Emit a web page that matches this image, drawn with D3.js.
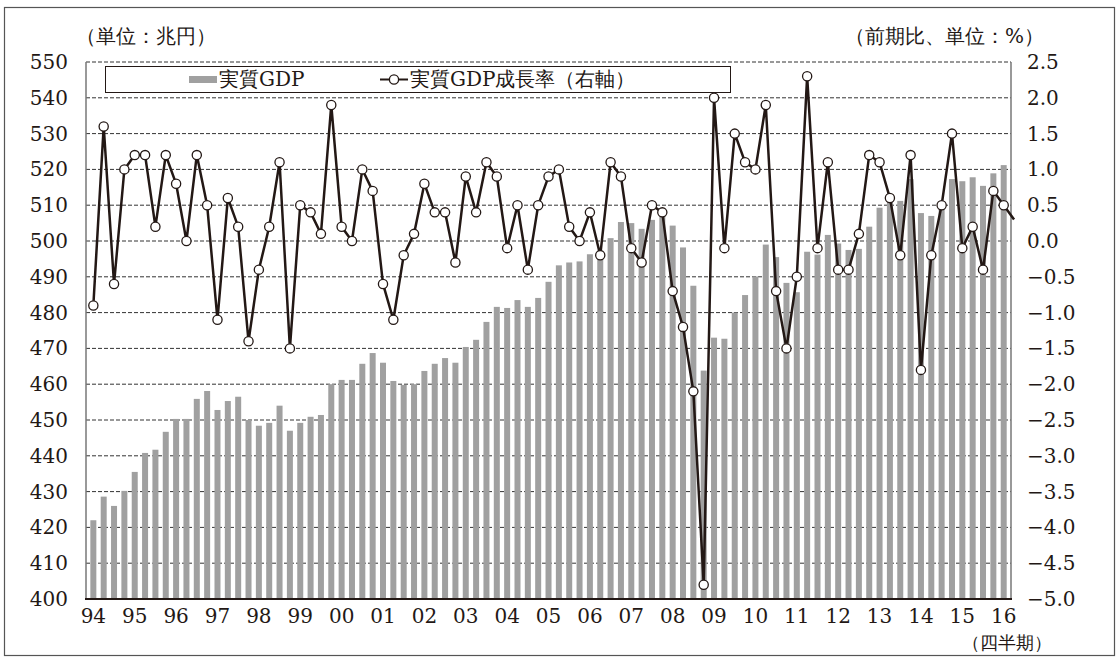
<!DOCTYPE html>
<html>
<head>
<meta charset="utf-8">
<script src="https://cdn.jsdelivr.net/npm/d3@7"></script>
<style>
  body { margin: 0; background: #fff; }
  svg { display: block; }
</style>
</head>
<body>
<div id="chart"></div>
<script>
// 年（四半期の軸ラベル）
const years = ["94","95","96","97","98","99","00","01","02","03","04","05",
               "06","07","08","09","10","11","12","13","14","15","16"];

// 実質GDP（兆円）94Q1〜16Q1
const gdp = [
  422.0, 428.6, 426.0, 430.2, 435.5, 440.8, 441.7, 446.7, 450.3, 450.3,
  455.9, 458.1, 452.8, 455.3, 456.5, 450.0, 448.4, 449.2, 454.0, 447.0,
  449.2, 450.9, 451.4, 460.0, 461.2, 461.2, 465.7, 468.7, 466.0, 460.9,
  459.8, 460.0, 463.7, 465.7, 467.3, 466.0, 470.4, 472.4, 477.4, 481.6,
  481.3, 483.5, 481.6, 484.1, 488.6, 493.2, 494.0, 494.3, 496.3, 497.4,
  500.8, 505.3, 505.0, 503.4, 505.9, 507.2, 504.3, 498.2, 487.5, 463.8,
  473.0, 472.7, 480.0, 484.9, 490.1, 499.0, 495.5, 488.3, 485.7, 497.0,
  496.2, 501.7, 499.3, 497.5, 497.8, 504.0, 509.3, 511.2, 511.2, 517.3,
  507.8, 507.0, 509.1, 517.3, 516.7, 517.8, 515.4, 518.9, 521.2
];

// 実質GDP成長率（前期比、%）最後の1点は図の右端からはみ出す
const growth = [
  -0.9, 1.6, -0.6, 1.0, 1.2, 1.2, 0.2, 1.2, 0.8, 0.0,
  1.2, 0.5, -1.1, 0.6, 0.2, -1.4, -0.4, 0.2, 1.1, -1.5,
  0.5, 0.4, 0.1, 1.9, 0.2, 0.0, 1.0, 0.7, -0.6, -1.1,
  -0.2, 0.1, 0.8, 0.4, 0.4, -0.3, 0.9, 0.4, 1.1, 0.9,
  -0.1, 0.5, -0.4, 0.5, 0.9, 1.0, 0.2, 0.0, 0.4, -0.2,
  1.1, 0.9, -0.1, -0.3, 0.5, 0.4, -0.7, -1.2, -2.1, -4.8,
  2.0, -0.1, 1.5, 1.1, 1.0, 1.9, -0.7, -1.5, -0.5, 2.3,
  -0.1, 1.1, -0.4, -0.4, 0.1, 1.2, 1.1, 0.6, -0.2, 1.2,
  -1.8, -0.2, 0.5, 1.5, -0.1, 0.2, -0.4, 0.7, 0.5, 0.3
];

const leftTicks = [400, 410, 420, 430, 440, 450, 460, 470, 480, 490, 500, 510, 520, 530, 540, 550];
const rightTicks = [-5.0, -4.5, -4.0, -3.5, -3.0, -2.5, -2.0, -1.5, -1.0, -0.5, 0.0, 0.5, 1.0, 1.5, 2.0, 2.5];

// 四半期カテゴリ
const quarters = [];
years.forEach(y => { for (let q = 1; q <= 4; q++) quarters.push(y + "Q" + q); });
quarters.length = growth.length;

const width = 1118, height = 663;
const plot = { left: 86, right: 1011, top: 62, bottom: 599 };
const step = (plot.right - plot.left) / gdp.length;

const ink = "#231815";
const serif = "DejaVu Serif";

const svg = d3.select("#chart").append("svg")
    .attr("width", width)
    .attr("height", height)
    .style("background", "#fff");

// 外枠
svg.append("rect")
    .attr("x", 4.5).attr("y", 7.5)
    .attr("width", 1110).attr("height", 648)
    .attr("fill", "none")
    .attr("stroke", "#555")
    .attr("stroke-width", 1.2);

const x = d3.scaleBand()
    .domain(quarters)
    .range([plot.left, plot.left + step * quarters.length])
    .padding(0.42);

const yL = d3.scaleLinear().domain([400, 550]).range([plot.bottom, plot.top]);
const yR = d3.scaleLinear().domain([-5, 2.5]).range([plot.bottom, plot.top]);

// グリッド（破線）
svg.append("g")
    .selectAll("line")
    .data(leftTicks.filter(d => d > 400))
    .enter()
    .append("line")
    .attr("x1", plot.left)
    .attr("x2", plot.right)
    .attr("y1", d => yL(d))
    .attr("y2", d => yL(d))
    .attr("stroke", "#333")
    .attr("stroke-width", 1)
    .attr("stroke-dasharray", "4,2");

// 実質GDPの棒
svg.append("g")
    .selectAll("rect")
    .data(gdp)
    .enter()
    .append("rect")
    .attr("x", (d, i) => x(quarters[i]))
    .attr("y", d => yL(d))
    .attr("width", x.bandwidth())
    .attr("height", d => yL(400) - yL(d))
    .attr("fill", "#a0a0a0");

// 軸線
svg.append("line")
    .attr("x1", plot.left).attr("x2", plot.left)
    .attr("y1", plot.top).attr("y2", plot.bottom)
    .attr("stroke", "#777").attr("stroke-width", 1.5);
svg.append("line")
    .attr("x1", plot.right).attr("x2", plot.right)
    .attr("y1", plot.top).attr("y2", plot.bottom)
    .attr("stroke", "#777").attr("stroke-width", 1.5);
svg.append("line")
    .attr("x1", plot.left - 1).attr("x2", plot.right + 1)
    .attr("y1", plot.bottom).attr("y2", plot.bottom)
    .attr("stroke", ink).attr("stroke-width", 2.2);

// 成長率の折れ線
const cx = (d, i) => x(quarters[i]) + x.bandwidth() / 2;
const line = d3.line()
    .x(cx)
    .y(d => yR(d));

svg.append("path")
    .datum(growth)
    .attr("d", line)
    .attr("fill", "none")
    .attr("stroke", ink)
    .attr("stroke-width", 2.5)
    .attr("stroke-linejoin", "miter");

svg.append("g")
    .selectAll("circle")
    .data(growth.slice(0, gdp.length))
    .enter()
    .append("circle")
    .attr("cx", cx)
    .attr("cy", d => yR(d))
    .attr("r", 4.6)
    .attr("fill", "#fff")
    .attr("stroke", ink)
    .attr("stroke-width", 1.3);

// 左軸ラベル
const leftAxis = svg.append("g")
    .attr("transform", `translate(${plot.left},0)`)
    .call(d3.axisLeft(yL).tickValues(leftTicks).tickSize(0).tickPadding(18).tickFormat(d3.format("d")));
leftAxis.attr("font-family", null);
leftAxis.select(".domain").remove();
leftAxis.selectAll("text")
    .style("font-family", serif)
    .attr("font-size", 20)
    .attr("fill", ink);

// 右軸ラベル
const fmtR = d => (d < 0 ? "\u2212" : "") + Math.abs(d).toFixed(1);
const rightAxis = svg.append("g")
    .attr("transform", `translate(${plot.right},0)`)
    .call(d3.axisRight(yR).tickValues(rightTicks).tickSize(0).tickPadding(16).tickFormat(fmtR));
rightAxis.attr("font-family", null);
rightAxis.select(".domain").remove();
rightAxis.selectAll("text")
    .style("font-family", serif)
    .attr("font-size", 20)
    .attr("fill", ink);

// 下軸（年）
const yearTicks = quarters.filter(q => q.endsWith("Q1"));
const bottomAxis = svg.append("g")
    .attr("transform", `translate(0,${plot.bottom})`)
    .call(d3.axisBottom(x).tickValues(yearTicks).tickSize(0).tickPadding(10).tickFormat(q => q.slice(0, 2)));
bottomAxis.attr("font-family", null);
bottomAxis.select(".domain").remove();
bottomAxis.selectAll("text")
    .style("font-family", serif)
    .attr("font-size", 20)
    .attr("fill", ink);

// 単位
svg.append("text")
    .attr("x", 76).attr("y", 43)
    .style("font-family", serif)
    .attr("font-size", 20)
    .attr("fill", ink)
    .text("（単位：兆円）");

svg.append("text")
    .attr("x", 1044).attr("y", 43)
    .attr("text-anchor", "end")
    .style("font-family", serif)
    .attr("font-size", 20)
    .attr("fill", ink)
    .text("（前期比、単位：%）");

svg.append("text")
    .attr("x", 1052).attr("y", 649)
    .attr("text-anchor", "end")
    .style("font-family", serif)
    .attr("font-size", 18)
    .attr("fill", ink)
    .text("（四半期）");

// 凡例
const legend = svg.append("g");
legend.append("rect")
    .attr("x", 105.5).attr("y", 66.5)
    .attr("width", 625).attr("height", 26)
    .attr("fill", "#fff")
    .attr("stroke", ink)
    .attr("stroke-width", 1);
legend.append("rect")
    .attr("x", 189).attr("y", 76)
    .attr("width", 28).attr("height", 7)
    .attr("fill", "#a0a0a0");
legend.append("text")
    .attr("x", 219).attr("y", 86)
    .style("font-family", serif)
    .attr("font-size", 20)
    .attr("fill", ink)
    .text("実質GDP");
legend.append("line")
    .attr("x1", 380).attr("x2", 408)
    .attr("y1", 79.5).attr("y2", 79.5)
    .attr("stroke", ink)
    .attr("stroke-width", 2);
legend.append("circle")
    .attr("cx", 394).attr("cy", 79.5).attr("r", 4.6)
    .attr("fill", "#fff")
    .attr("stroke", ink)
    .attr("stroke-width", 1.3);
legend.append("text")
    .attr("x", 410).attr("y", 86)
    .style("font-family", serif)
    .attr("font-size", 20)
    .attr("fill", ink)
    .text("実質GDP成長率（右軸）");
</script>
</body>
</html>
